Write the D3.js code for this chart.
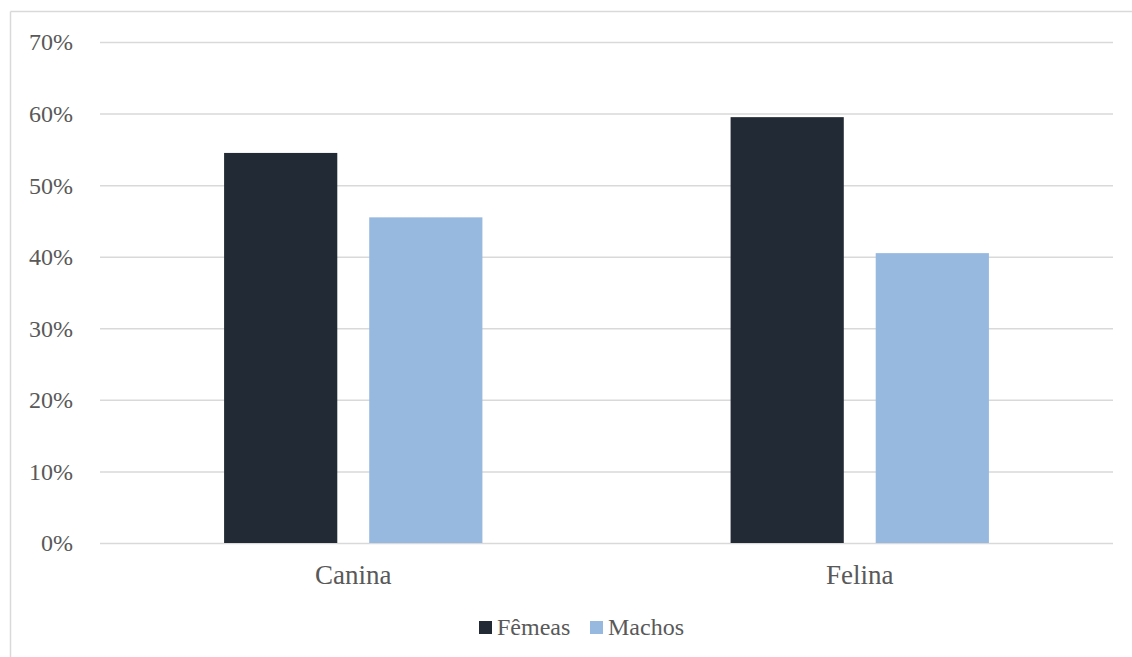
<!DOCTYPE html>
<html><head><meta charset="utf-8">
<script src="https://cdn.jsdelivr.net/npm/d3@7"></script>
<style>body{margin:0;background:#fff}svg{display:block}</style>
</head><body><svg id="c" width="1132" height="657"></svg>
<script>
const categories = ["Canina", "Felina"];
const seriesNames = ["Fêmeas", "Machos"];
const femeas = [0.545, 0.595];
const machos = [0.455, 0.405];
const yTicks = [0, 0.1, 0.2, 0.3, 0.4, 0.5, 0.6, 0.7];
const colors = ["#222a35", "#97b9e0"];
const FONT = "Liberation Serif";

const svg = d3.select("#c");
// outer border (top and left visible)
svg.append("line").attr("x1",10.5).attr("x2",1132).attr("y1",11.5).attr("y2",11.5).attr("stroke","#d9d9d9").attr("stroke-width",1.5);
svg.append("line").attr("x1",10.5).attr("x2",10.5).attr("y1",11.5).attr("y2",657).attr("stroke","#d9d9d9").attr("stroke-width",1.5);

const mLeft = 100, mRight = 1113, mTop = 42, mBottom = 543;
const x = d3.scaleBand().domain(categories).range([mLeft, mRight]);
const y = d3.scaleLinear().domain([0, 0.7]).range([mBottom, mTop]);

const yAxis = d3.axisLeft(y).tickValues(yTicks).tickFormat(d3.format(".0%")).tickSize(-(mRight-mLeft)).tickPadding(27);
const gy = svg.append("g").attr("transform", `translate(${mLeft},0)`).call(yAxis);
gy.attr("font-family", FONT).attr("font-size", "24px");
gy.select(".domain").remove();
gy.selectAll(".tick line").attr("stroke","#d9d9d9").attr("stroke-width",1.5);
gy.selectAll(".tick text").attr("fill","#595959").attr("dy","0.33em");

const x1 = d3.scaleBand().domain(seriesNames).range([0, x.bandwidth()]).paddingInner(0.22).paddingOuter(0.855);
const data = [femeas, machos];
seriesNames.forEach((s, si) => {
  svg.append("g").selectAll("rect").data(categories).join("rect")
    .attr("x", (c) => x(c) + x1(s))
    .attr("width", x1.bandwidth())
    .attr("y", (c, i) => y(data[si][i]))
    .attr("height", (c, i) => mBottom - y(data[si][i]))
    .attr("fill", colors[si]);
});

const xAxis = d3.axisBottom(x).tickSize(0).tickPadding(32);
const gx = svg.append("g").attr("transform", `translate(0,${mBottom})`).call(xAxis);
gx.attr("font-family", FONT).attr("font-size", "27px");
gx.select(".domain").remove();
gx.selectAll(".tick text").attr("fill","#595959").attr("dy","0.32em");

// legend
const legend = svg.append("g").attr("font-family", FONT).attr("font-size", "24px");
const lx = [479, 590];
seriesNames.forEach((s, i) => {
  legend.append("rect").attr("x", lx[i]).attr("y", 621).attr("width", 13).attr("height", 13).attr("fill", colors[i]);
  legend.append("text").attr("x", lx[i] + 18).attr("y", 628).attr("dy","0.28em").attr("fill","#595959").text(s);
});
</script></body></html>
